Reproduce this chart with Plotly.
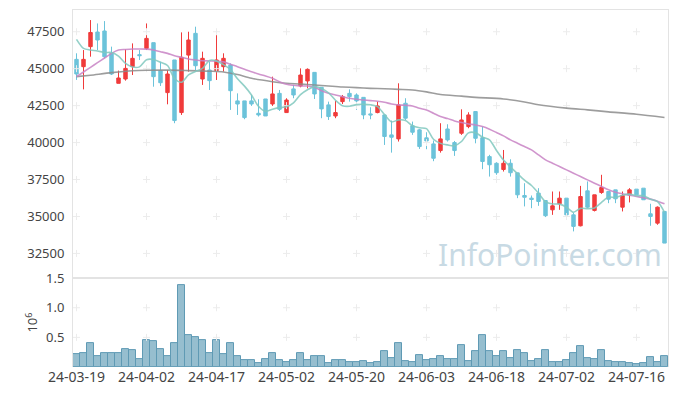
import plotly.graph_objects as go

dates = ["24-03-19","24-03-20","24-03-21","24-03-22","24-03-25","24-03-26","24-03-27","24-03-28","24-03-29","24-04-01",
"24-04-02","24-04-03","24-04-04","24-04-05","24-04-08","24-04-09","24-04-11","24-04-12","24-04-15","24-04-16",
"24-04-17","24-04-18","24-04-19","24-04-22","24-04-23","24-04-24","24-04-25","24-04-26","24-04-29","24-04-30",
"24-05-02","24-05-03","24-05-07","24-05-08","24-05-09","24-05-10","24-05-13","24-05-14","24-05-16","24-05-17",
"24-05-20","24-05-21","24-05-22","24-05-23","24-05-24","24-05-27","24-05-28","24-05-29","24-05-30","24-05-31",
"24-06-03","24-06-04","24-06-05","24-06-07","24-06-10","24-06-11","24-06-12","24-06-13","24-06-14","24-06-17",
"24-06-18","24-06-19","24-06-20","24-06-21","24-06-24","24-06-25","24-06-26","24-06-27","24-06-28","24-07-01",
"24-07-02","24-07-03","24-07-04","24-07-05","24-07-08","24-07-09","24-07-10","24-07-11","24-07-12","24-07-15",
"24-07-16","24-07-17","24-07-18","24-07-19","24-07-22"]

open_ = [45630,45135,46490,47480,47550,46040,44010,44300,45135,45950,
         46370,46760,44860,43380,45590,42030,45920,47390,44300,44910,
         44865,45135,45250,42820,42820,42820,41980,42950,42610,43330,
         42030,43630,43830,44170,44750,43740,42550,41800,42770,43330,
         43220,43060,41940,42030,41870,40520,40250,42660,41130,40860,
         40320,39910,39460,40920,40000,40630,41080,42100,40330,39050,
         38600,38180,38600,37950,36420,36240,36580,36080,35450,35860,
         36240,35110,34370,36735,35410,36620,36690,36800,35630,36465,
         36850,36915,35180,34550,35340]
high = [46040,46260,48290,48060,48220,46490,44870,46310,46710,46260,
        48060,46760,45470,44910,45590,47455,47500,47840,46150,45470,
        47275,46040,45360,43330,42820,43220,42930,42950,44460,43560,
        43000,43900,45020,45020,44750,43740,42770,42820,43220,43600,
        43330,43060,42390,42770,41870,41490,44010,43000,41420,40920,
        40700,40140,41310,41240,40110,42250,42050,42100,41080,39170,
        38670,39500,38870,37950,37250,36420,36915,36080,36690,36690,
        36240,35250,37070,37370,36465,37820,36690,36800,36690,36915,
        36850,36915,35860,35680,35340]
low = [44240,43600,45810,46260,45700,44570,44010,44190,44570,45590,
       46260,43780,43830,42590,41310,41870,44800,44910,43900,43560,
       44235,44800,42210,41870,41580,42480,41760,41800,42480,42140,
       42030,43000,43740,43670,42950,41650,41530,41650,42610,42770,
       42210,41580,41580,41980,39840,39320,40070,41530,40520,39570,
       39550,38740,39320,40070,39100,40520,40970,39950,38200,37700,
       37820,38040,37700,36240,35680,35560,35720,34960,35110,35450,
       35110,33990,34330,35560,35340,36530,35900,35900,35340,35950,
       36465,36130,34370,34440,33200]
close = [44640,45630,47450,46940,45810,44640,44370,45020,45700,45880,
         47050,44460,44050,44640,41490,45770,46940,45200,45700,44190,
         45590,45700,43510,42610,41690,42610,41870,41800,43290,42250,
         42880,43220,44570,44955,43290,42280,41760,42030,43110,43110,
         42820,41870,41870,42480,40410,40360,42550,41650,40700,39730,
         40110,38940,40250,40180,39460,41530,41870,40290,38720,38500,
         37960,38600,37960,36465,36300,36150,36014,35050,35720,36240,
         35110,34330,36350,35630,36465,36960,36170,36195,36420,36800,
         36465,36130,35000,35630,33200]

volume = [210000,230000,400000,190000,230000,230000,230000,310000,280000,140000,
          460000,430000,310000,190000,400000,1380000,530000,500000,450000,240000,
          450000,210000,410000,180000,120000,120000,70000,140000,230000,110000,
          90000,110000,240000,120000,180000,190000,70000,120000,110000,80000,
          90000,100000,70000,90000,260000,150000,410000,100000,85000,200000,
          120000,140000,190000,140000,140000,370000,100000,260000,530000,260000,
          190000,260000,150000,280000,240000,100000,140000,280000,85000,85000,
          110000,240000,350000,150000,140000,290000,100000,85000,85000,70000,
          50000,70000,170000,85000,190000]

ma5 = [46980,46370,46260,46200,46094,46094,45842,45356,45108,45122,
       45604,45622,45428,45216,44338,44082,44578,44808,45020,45560,
       45524,45276,44938,44320,43820,43224,42458,42116,42252,42364,
       42418,42688,43242,43575,43783,43663,43371,42863,42494,42458,
       42566,42588,42556,42430,41890,41398,41534,41490,41134,40998,
       40948,40226,39946,39842,39788,40072,40658,40666,40374,40182,
       39468,38814,38348,37897,37457,37095,36578,35996,35847,35835,
       35627,35290,35550,35532,35577,35947,36315,36284,36442,36509,
       36410,36402,36163,36005,35285]

ma20 = [44460,44775,45090,45406,45721,46036,46261,46300,46330,46330,
        46320,46260,46149,46036,45879,45766,45653,45590,45541,45520,
        45500,45460,45293,45135,44955,44798,44640,44505,44347,44122,
        43942,43874,43829,43829,43739,43514,43334,43221,43109,42996,
        42928,42884,42838,42793,42726,42613,42546,42523,42478,42320,
        42208,41983,41757,41622,41464,41352,41262,41194,41081,40901,
        40676,40451,40181,39955,39730,39505,39167,38829,38604,38379,
        38154,37928,37703,37478,37253,37028,36802,36645,36532,36442,
        36352,36262,36172,36037,35857]

ma120_idx = [0, 2, 5, 8, 10, 13, 16, 19, 21, 23, 25, 28, 30, 32, 34, 36, 38, 40, 42, 44,
             46, 48, 50, 52, 55, 57, 61, 64, 66, 70, 73, 76, 80, 84]
ma120 = [44460,44560,44730,44860,44890,44900,44870,44830,44780,44600,44350,44120,44010,43965,43900,43830,43762,43717,43670,43640,
         43600,43560,43430,43250,43140,43060,42950,42750,42560,42330,42210,42080,41920,41700]

price_ticks = [32500, 35000, 37500, 40000, 42500, 45000, 47500]
vol_ticks = [500000, 1000000, 1500000]
vol_tick_text = ["0.5", "1.0", "1.5"]
x_ticks = dates[::10]

FONT = "Noto Sans"
TXT = "#444444"
BORDER = "#e3e3e3"
UP = "#F03B3B"
DOWN = "#6CC3DA"
CROSS = "#ececec"

fig = go.Figure()

# grid crosses at tick intersections
gx, gy = [], []
for xv in x_ticks:
    for yv in price_ticks:
        gx.append(xv); gy.append(yv)
fig.add_trace(go.Scatter(x=gx, y=gy, mode="markers", xaxis="x", yaxis="y",
                         marker=dict(symbol="cross-thin", size=5, line=dict(width=1, color=CROSS)),
                         hoverinfo="skip", showlegend=False))
gx2, gy2 = [], []
for xv in x_ticks:
    for yv in vol_ticks[:2]:
        gx2.append(xv); gy2.append(yv)
fig.add_trace(go.Scatter(x=gx2, y=gy2, mode="markers", xaxis="x2", yaxis="y2",
                         marker=dict(symbol="cross-thin", size=5, line=dict(width=1, color=CROSS)),
                         hoverinfo="skip", showlegend=False))

fig.add_trace(go.Scatter(x=[dates[i] for i in ma120_idx], y=ma120, mode="lines", xaxis="x", yaxis="y",
                         line=dict(color="rgba(140,140,140,0.85)", width=1.6, shape="spline", smoothing=0.8),
                         hoverinfo="skip", showlegend=False))
fig.add_trace(go.Scatter(x=dates, y=ma20, mode="lines", xaxis="x", yaxis="y",
                         line=dict(color="rgba(200,130,196,0.85)", width=1.6, shape="spline", smoothing=0.8),
                         hoverinfo="skip", showlegend=False))

fig.add_trace(go.Candlestick(x=dates, open=open_, high=high, low=low, close=close,
                             xaxis="x", yaxis="y",
                             increasing=dict(line=dict(color=UP, width=1), fillcolor=UP),
                             decreasing=dict(line=dict(color=DOWN, width=1), fillcolor=DOWN),
                             whiskerwidth=0, showlegend=False))

fig.add_trace(go.Scatter(x=dates, y=ma5, mode="lines", xaxis="x", yaxis="y",
                         line=dict(color="rgba(128,200,190,0.85)", width=1.6, shape="spline", smoothing=0.8),
                         hoverinfo="skip", showlegend=False))

fig.add_trace(go.Bar(x=dates, y=volume, xaxis="x2", yaxis="y2",
                     marker=dict(color="rgba(150,190,207,1)", line=dict(color="#5f9ab4", width=1)),
                     showlegend=False))

fig.update_layout(
    width=677, height=396,
    margin=dict(l=73, r=9, t=10, b=29, autoexpand=False),
    paper_bgcolor="white", plot_bgcolor="white",
    font=dict(family=FONT, size=13, color=TXT),
    bargap=0,
    xaxis=dict(domain=[0, 1], anchor="y", type="category", categoryorder="array", categoryarray=dates,
               range=[-0.5, len(dates) - 0.5], showticklabels=False, showgrid=False,
               rangeslider=dict(visible=False), showline=True, linecolor=BORDER, linewidth=1, mirror=True,
               ticks="", zeroline=False, automargin=False),
    yaxis=dict(domain=[0.249, 1], anchor="x", range=[30830, 48970], tickvals=price_ticks,
               ticktext=[str(v) for v in price_ticks], showgrid=False, zeroline=False,
               showline=True, linecolor=BORDER, linewidth=1, mirror=True, ticks="",
               ticklabelstandoff=5, tickfont=dict(size=13, color=TXT), automargin=False),
    xaxis2=dict(domain=[0, 1], anchor="y2", type="category", categoryorder="array", categoryarray=dates,
                range=[-0.5, len(dates) - 0.5], tickvals=x_ticks, ticktext=x_ticks, showgrid=False,
                showline=False, ticks="", tickfont=dict(size=14, color=TXT), tickangle=0, zeroline=False,
                automargin=False),
    yaxis2=dict(domain=[0, 0.249], anchor="x2", range=[0, 1500000], tickvals=vol_ticks, ticktext=vol_tick_text,
                showgrid=False, zeroline=False, showline=True, linecolor=BORDER, linewidth=1, mirror=True,
                ticks="", ticklabelstandoff=5, tickfont=dict(size=13, color=TXT), automargin=False,
                title=dict(text="10<sup>6</sup>", standoff=5, font=dict(size=13, color=TXT))),
    annotations=[dict(text="InfoPointer.com", xref="paper", yref="paper", x=0.802, y=0.315,
                      xanchor="center", yanchor="middle", showarrow=False,
                      font=dict(family=FONT, size=30, color="#C8DAE4"))],
    shapes=[dict(type="line", xref="paper", yref="paper", x0=0, x1=1, y0=0.249, y1=0.249,
                 line=dict(color=BORDER, width=2))],
)

fig.write_html("out.html", config={"displayModeBar": False},
               post_script="document.body.style.margin='0';document.body.style.padding='0';")
